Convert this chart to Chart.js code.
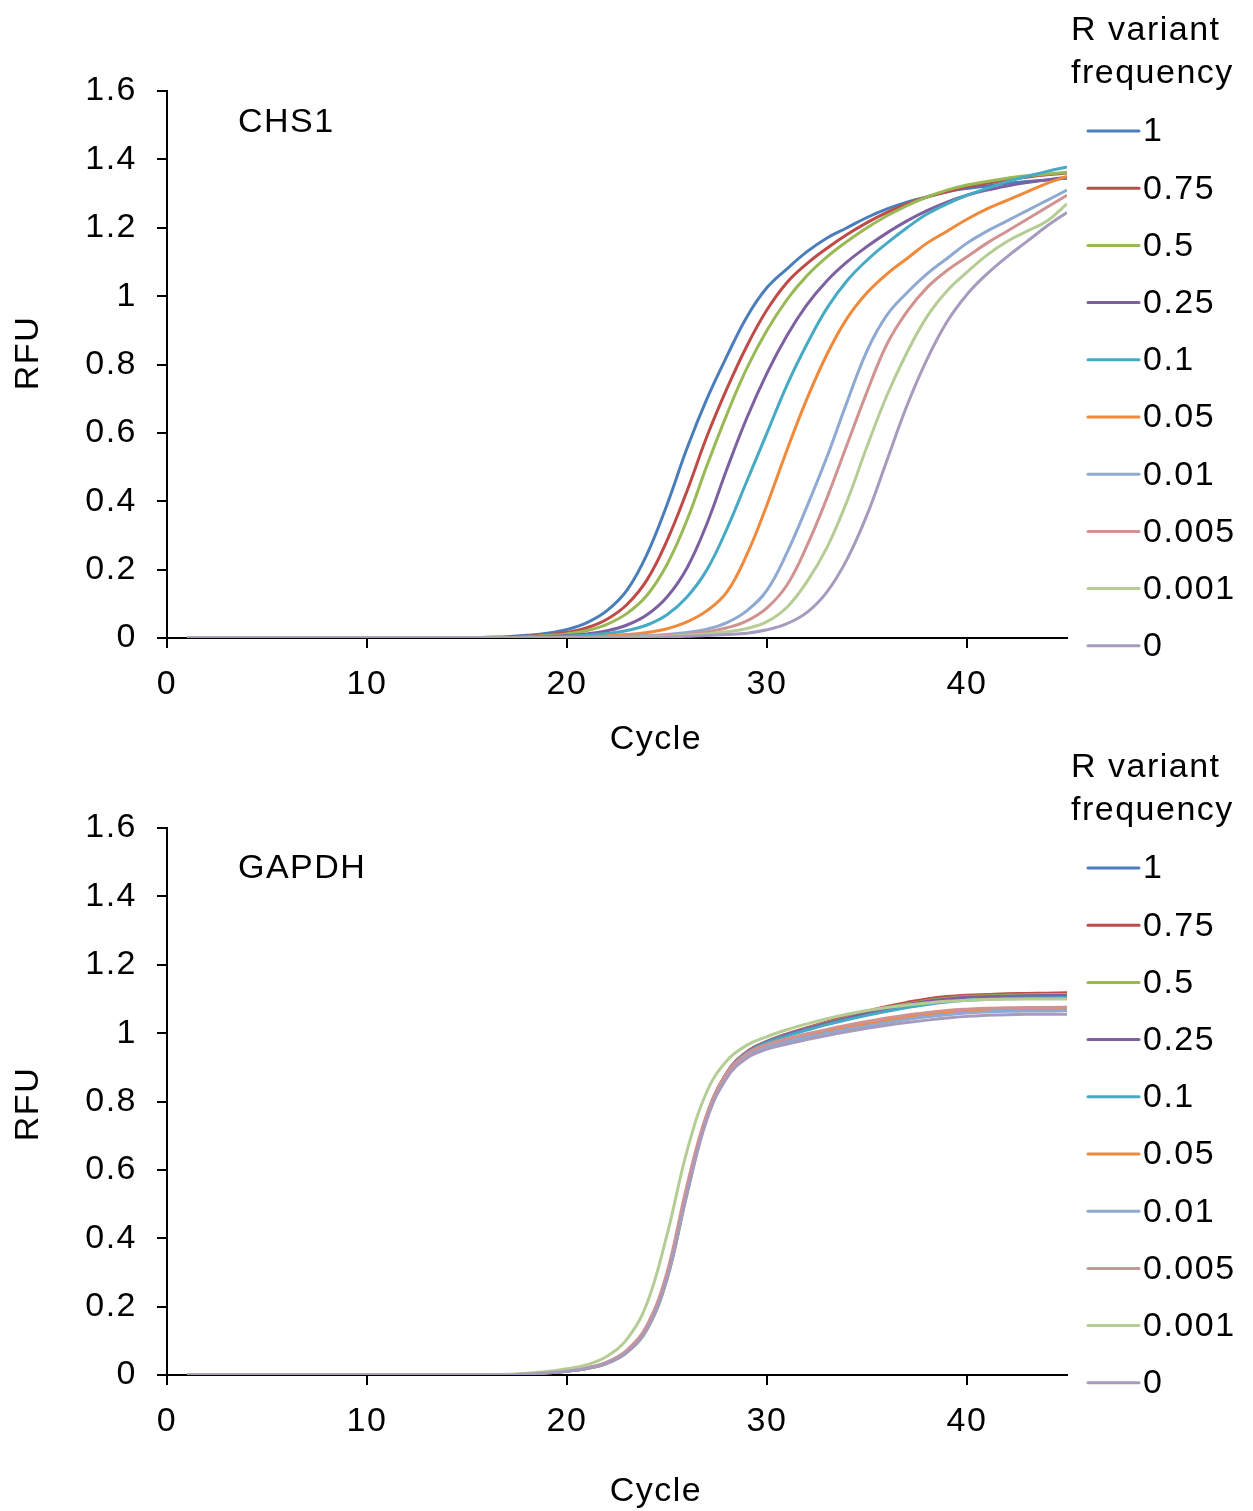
<!DOCTYPE html>
<html>
<head>
<meta charset="utf-8">
<script src="https://cdn.jsdelivr.net/npm/chart.js@4.4.1/dist/chart.umd.min.js"></script>
<style>
  html, body { margin: 0; padding: 0; background: #fff; }
  #wrap { position: relative; width: 1253px; height: 1511px; overflow: hidden; }
  #wrap canvas { position: absolute; left: 0; }
</style>
</head>
<body>
<div id="wrap">
  <canvas id="chs1" width="1253" height="760" style="top:0"></canvas>
  <canvas id="gapdh" width="1253" height="774" style="top:737px"></canvas>
</div>
<script>
// qPCR amplification curves, CHS1 (top) and GAPDH (bottom)

const CYCLES = [1, 2, 3, 4, 5, 6, 7, 8, 9, 10, 11, 12, 13, 14, 15, 16, 17, 18, 19, 20,
  21, 22, 23, 24, 25, 26, 27, 28, 29, 30, 31, 32, 33, 34, 35, 36, 37, 38, 39, 40,
  41, 42, 43, 44, 45];
const FREQ_LABELS = ['1', '0.75', '0.5', '0.25', '0.1', '0.05', '0.01', '0.005', '0.001', '0'];
const LEGEND_TITLE = ['R variant', 'frequency'];
const X_TICKS = [0, 10, 20, 30, 40];
const Y_TICKS = [0, 0.2, 0.4, 0.6, 0.8, 1, 1.2, 1.4, 1.6];

// CHS1 RFU per cycle
const chs1_1 = [0, 0, 0, 0, 0, 0, 0, 0, 0, 0,
  0, 0, 0, 0, 0, 0.002, 0.004, 0.008, 0.014, 0.025,
  0.045, 0.08, 0.14, 0.245, 0.39, 0.555, 0.70, 0.825, 0.94, 1.025,
  1.08, 1.13, 1.17, 1.2, 1.23, 1.255, 1.275, 1.29, 1.305, 1.315,
  1.322, 1.33, 1.335, 1.34, 1.345];
const chs1_075 = [0, 0, 0, 0, 0, 0, 0, 0, 0, 0,
  0, 0, 0, 0, 0, 0, 0.002, 0.005, 0.009, 0.016,
  0.03, 0.055, 0.098, 0.17, 0.285, 0.43, 0.59, 0.73, 0.855, 0.96,
  1.04, 1.095, 1.14, 1.18, 1.215, 1.245, 1.27, 1.29, 1.305, 1.32,
  1.33, 1.34, 1.348, 1.355, 1.36];
const chs1_05 = [0, 0, 0, 0, 0, 0, 0, 0, 0, 0,
  0, 0, 0, 0, 0, 0, 0, 0.004, 0.007, 0.012,
  0.022, 0.04, 0.072, 0.125, 0.215, 0.345, 0.505, 0.655, 0.79, 0.9,
  0.99, 1.06, 1.115, 1.16, 1.2, 1.235, 1.265, 1.29, 1.31, 1.325,
  1.335, 1.345, 1.352, 1.357, 1.362];
const chs1_025 = [0, 0, 0, 0, 0, 0, 0, 0, 0, 0,
  0, 0, 0, 0, 0, 0, 0, 0.002, 0.004, 0.007,
  0.012, 0.021, 0.038, 0.068, 0.12, 0.205, 0.335, 0.495, 0.645, 0.775,
  0.885, 0.975, 1.045, 1.1, 1.145, 1.185, 1.22, 1.25, 1.275, 1.295,
  1.31, 1.322, 1.332, 1.34, 1.348];
const chs1_01 = [0, 0, 0, 0, 0, 0, 0, 0, 0, 0,
  0, 0, 0, 0, 0, 0, 0, 0, 0.003, 0.005,
  0.008, 0.013, 0.022, 0.038, 0.068, 0.12, 0.2, 0.32, 0.46, 0.6,
  0.74, 0.86, 0.965, 1.045, 1.105, 1.155, 1.2, 1.24, 1.27, 1.295,
  1.315, 1.335, 1.35, 1.365, 1.378];
const chs1_005 = [0, 0, 0, 0, 0, 0, 0, 0, 0, 0,
  0, 0, 0, 0, 0, 0, 0, 0, 0, 0.002,
  0.003, 0.006, 0.01, 0.016, 0.027, 0.047, 0.08, 0.135, 0.245, 0.39,
  0.55, 0.7, 0.83, 0.935, 1.01, 1.065, 1.11, 1.155, 1.19, 1.225,
  1.255, 1.28, 1.305, 1.33, 1.35];
const chs1_001 = [0, 0, 0, 0, 0, 0, 0, 0, 0, 0,
  0, 0, 0, 0, 0, 0, 0, 0, 0, 0,
  0, 0.003, 0.005, 0.007, 0.01, 0.016, 0.026, 0.045, 0.08, 0.14,
  0.25, 0.385, 0.53, 0.69, 0.84, 0.945, 1.01, 1.065, 1.11, 1.155,
  1.19, 1.22, 1.25, 1.28, 1.31];
const chs1_0005 = [0, 0, 0, 0, 0, 0, 0, 0, 0, 0,
  0, 0, 0, 0, 0, 0, 0, 0, 0, 0,
  0, 0, 0.003, 0.005, 0.007, 0.011, 0.018, 0.03, 0.05, 0.088,
  0.155, 0.27, 0.41, 0.565, 0.72, 0.86, 0.955, 1.025, 1.075, 1.115,
  1.155, 1.19, 1.225, 1.26, 1.295];
const chs1_0001 = [0, 0, 0, 0, 0, 0, 0, 0, 0, 0,
  0, 0, 0, 0, 0, 0, 0, 0, 0, 0,
  0, 0, 0, 0.003, 0.005, 0.008, 0.012, 0.018, 0.028, 0.048,
  0.09, 0.165, 0.265, 0.4, 0.56, 0.71, 0.835, 0.94, 1.015, 1.07,
  1.12, 1.16, 1.19, 1.22, 1.27];
const chs1_0 = [0, 0, 0, 0, 0, 0, 0, 0, 0, 0,
  0, 0, 0, 0, 0, 0, 0, 0, 0, 0,
  0, 0, 0, 0, 0.003, 0.005, 0.007, 0.01, 0.014, 0.024,
  0.042, 0.075, 0.135, 0.23, 0.36, 0.52, 0.68, 0.815, 0.925, 1.005,
  1.065, 1.115, 1.16, 1.205, 1.245];

// GAPDH RFU per cycle
const gapdh_1 = [0, 0, 0, 0, 0, 0, 0, 0, 0, 0,
  0, 0, 0, 0, 0, 0, 0, 0.003, 0.007, 0.012,
  0.02, 0.036, 0.07, 0.14, 0.29, 0.54, 0.76, 0.885, 0.945, 0.975,
  0.995, 1.012, 1.028, 1.043, 1.057, 1.07, 1.082, 1.092, 1.1, 1.105,
  1.108, 1.11, 1.11, 1.111, 1.112];
const gapdh_075 = [0, 0, 0, 0, 0, 0, 0, 0, 0, 0,
  0, 0, 0, 0, 0, 0, 0, 0.003, 0.007, 0.012,
  0.02, 0.035, 0.068, 0.137, 0.285, 0.535, 0.758, 0.885, 0.946, 0.976,
  0.998, 1.016, 1.033, 1.049, 1.064, 1.078, 1.09, 1.1, 1.107, 1.111,
  1.113, 1.115, 1.116, 1.117, 1.118];
const gapdh_05 = [0, 0, 0, 0, 0, 0, 0, 0, 0, 0,
  0, 0, 0, 0, 0, 0, 0, 0.003, 0.006, 0.011,
  0.019, 0.034, 0.066, 0.133, 0.28, 0.53, 0.755, 0.883, 0.944, 0.975,
  0.996, 1.014, 1.03, 1.045, 1.06, 1.073, 1.085, 1.095, 1.102, 1.107,
  1.109, 1.111, 1.112, 1.113, 1.113];
const gapdh_025 = [0, 0, 0, 0, 0, 0, 0, 0, 0, 0,
  0, 0, 0, 0, 0, 0, 0, 0.003, 0.007, 0.012,
  0.02, 0.036, 0.069, 0.139, 0.288, 0.538, 0.758, 0.884, 0.944, 0.975,
  0.996, 1.013, 1.029, 1.044, 1.058, 1.071, 1.083, 1.093, 1.1, 1.105,
  1.107, 1.108, 1.109, 1.11, 1.11];
const gapdh_01 = [0, 0, 0, 0, 0, 0, 0, 0, 0, 0,
  0, 0, 0, 0, 0, 0, 0, 0.003, 0.007, 0.012,
  0.02, 0.035, 0.068, 0.137, 0.286, 0.536, 0.757, 0.882, 0.942, 0.972,
  0.992, 1.009, 1.025, 1.039, 1.052, 1.064, 1.075, 1.084, 1.091, 1.096,
  1.099, 1.101, 1.102, 1.103, 1.104];
const gapdh_005 = [0, 0, 0, 0, 0, 0, 0, 0, 0, 0,
  0, 0, 0, 0, 0, 0, 0, 0.003, 0.007, 0.012,
  0.02, 0.036, 0.07, 0.14, 0.29, 0.54, 0.755, 0.878, 0.936, 0.963,
  0.979, 0.992, 1.004, 1.016, 1.027, 1.037, 1.046, 1.054, 1.06, 1.065,
  1.068, 1.07, 1.071, 1.072, 1.072];
const gapdh_001 = [0, 0, 0, 0, 0, 0, 0, 0, 0, 0,
  0, 0, 0, 0, 0, 0, 0, 0.003, 0.007, 0.012,
  0.02, 0.036, 0.07, 0.14, 0.29, 0.54, 0.753, 0.875, 0.932, 0.959,
  0.975, 0.988, 1.0, 1.011, 1.021, 1.031, 1.04, 1.048, 1.054, 1.059,
  1.062, 1.064, 1.065, 1.065, 1.066];
const gapdh_0005 = [0, 0, 0, 0, 0, 0, 0, 0, 0, 0,
  0, 0, 0, 0, 0, 0, 0, 0.003, 0.007, 0.013,
  0.021, 0.038, 0.073, 0.146, 0.3, 0.555, 0.765, 0.884, 0.94, 0.967,
  0.984, 0.998, 1.011, 1.023, 1.034, 1.044, 1.053, 1.06, 1.066, 1.07,
  1.073, 1.074, 1.075, 1.075, 1.076];
const gapdh_0001 = [0, 0, 0, 0, 0, 0, 0, 0, 0, 0,
  0, 0, 0, 0, 0, 0, 0.002, 0.005, 0.01, 0.018,
  0.03, 0.055, 0.105, 0.21, 0.41, 0.655, 0.83, 0.92, 0.965, 0.99,
  1.01, 1.027, 1.042, 1.055, 1.066, 1.075, 1.082, 1.088, 1.093, 1.096,
  1.098, 1.099, 1.1, 1.1, 1.1];
const gapdh_0 = [0, 0, 0, 0, 0, 0, 0, 0, 0, 0,
  0, 0, 0, 0, 0, 0, 0, 0.003, 0.006, 0.011,
  0.019, 0.034, 0.066, 0.134, 0.282, 0.53, 0.748, 0.87, 0.927, 0.953,
  0.968, 0.981, 0.993, 1.004, 1.014, 1.023, 1.031, 1.038, 1.044, 1.049,
  1.052, 1.054, 1.055, 1.055, 1.055];

const SERIES_COLORS = ['#4A7EBB', '#BE4B48', '#98B954', '#7D60A0', '#46AAC5',
  '#F08A3A', '#8EA9D2', '#D19392', '#B5CD94', '#A69BBE'];
const FONT = "'Liberation Sans', Arial, sans-serif";
const FONT_SIZE = 34;

// legend, panel name and axis titles, placed like the Excel export
const panelDecor = {
  id: 'panelDecor',
  beforeDraw(chart) {
    // Excel text runs a bit wider than Liberation Sans
    chart.ctx.letterSpacing = '1.5px';
  },
  afterDraw(chart, args, opts) {
    const { ctx, chartArea } = chart;
    ctx.save();
    ctx.letterSpacing = '1.5px';
    ctx.fillStyle = '#000';
    ctx.font = `${FONT_SIZE}px ${FONT}`;
    ctx.textAlign = 'left';
    ctx.textBaseline = 'alphabetic';
    ctx.fillText(opts.name, 238, opts.nameY);
    LEGEND_TITLE.forEach((t, i) => ctx.fillText(t, 1071, 40 + i * 43));

    ctx.lineCap = 'round';
    ctx.lineWidth = 3;
    ctx.textBaseline = 'middle';
    chart.data.datasets.forEach((ds, i) => {
      const y = 131 + i * 57.2;
      ctx.strokeStyle = ds.borderColor;
      ctx.beginPath();
      ctx.moveTo(1088, y);
      ctx.lineTo(1139, y);
      ctx.stroke();
      ctx.fillText(ds.label, 1143, y + 1);
    });

    ctx.textAlign = 'center';
    ctx.fillText('Cycle', 656, opts.xTitleY);
    ctx.translate(29, opts.yTitleY);
    ctx.rotate(-Math.PI / 2);
    ctx.fillText('RFU', 0, 0);
    ctx.restore();
  },
};

function createQpcrChart(canvasId, name, series, opts) {
  const ctx = document.getElementById(canvasId);
  const datasets = series.map((data, i) => ({
    label: FREQ_LABELS[i],
    data,
    borderColor: SERIES_COLORS[i],
    borderWidth: 3,
    pointRadius: 0,
    fill: false,
    tension: 0.4,
    order: series.length - 1 - i,
  }));

  const axisGrid = {
    drawOnChartArea: false,
    drawTicks: true,
    tickLength: 10,
    color: '#000',
    lineWidth: 2,
  };
  const tickFont = { family: FONT, size: FONT_SIZE };

  return new Chart(ctx, {
    type: 'line',
    data: { labels: CYCLES, datasets },
    options: {
      responsive: false,
      animation: false,
      layout: { padding: { left: 0, top: 91, right: 186, bottom: 0 } },
      plugins: {
        legend: { display: false },
        tooltip: { enabled: false },
        panelDecor: { name, nameY: opts.nameY, xTitleY: opts.xTitleY, yTitleY: opts.yTitleY },
      },
      scales: {
        x: {
          type: 'linear',
          min: 0,
          max: 45,
          afterBuildTicks: (s) => { s.ticks = X_TICKS.map((v) => ({ value: v })); },
          afterFit: (s) => { s.height = opts.xHeight; },
          grid: axisGrid,
          border: { display: true, color: '#000', width: 2 },
          ticks: { color: '#000', font: tickFont, padding: 16, maxRotation: 0 },
        },
        y: {
          min: 0,
          max: 1.6,
          afterBuildTicks: (s) => { s.ticks = Y_TICKS.map((v) => ({ value: v })); },
          afterFit: (s) => { s.width = 167; },
          grid: axisGrid,
          border: { display: true, color: '#000', width: 2 },
          ticks: {
            color: '#000',
            font: tickFont,
            padding: 20,
            callback: (v) => String(parseFloat(Number(v).toFixed(1))),
          },
        },
      },
    },
    plugins: [panelDecor],
  });
}

createQpcrChart('chs1', 'CHS1',
  [chs1_1, chs1_075, chs1_05, chs1_025, chs1_01, chs1_005, chs1_001, chs1_0005, chs1_0001, chs1_0],
  { nameY: 132, xHeight: 122, xTitleY: 740, yTitleY: 353 });

createQpcrChart('gapdh', 'GAPDH',
  [gapdh_1, gapdh_075, gapdh_05, gapdh_025, gapdh_01, gapdh_005, gapdh_001, gapdh_0005, gapdh_0001, gapdh_0],
  { nameY: 141, xHeight: 136, xTitleY: 755, yTitleY: 367 });
</script>
</body>
</html>
